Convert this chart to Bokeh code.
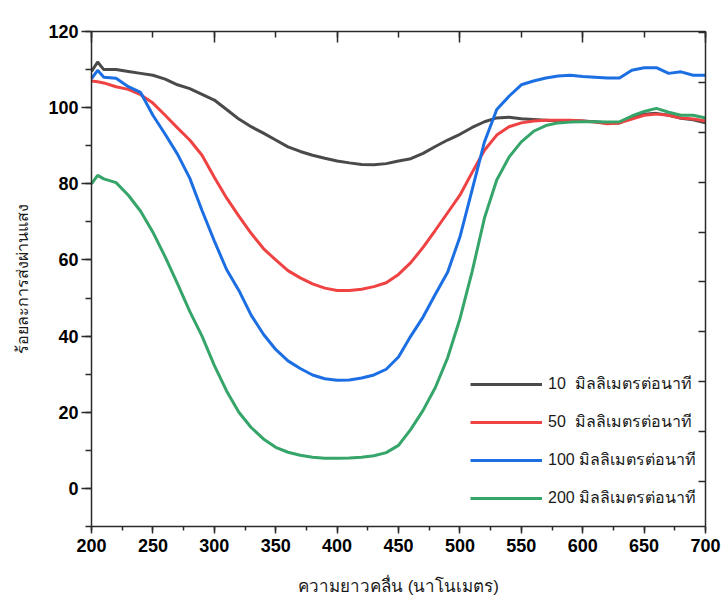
from bokeh.plotting import figure
from bokeh.models import (LinearAxis, Range1d, SingleIntervalTicker, Legend, LegendItem)
from bokeh.embed import file_html
from bokeh.resources import INLINE

# ---- data ----
wl = [200, 205, 210, 220, 230, 240, 250, 260, 270, 280, 290, 300, 310, 320, 330, 340, 350,
      360, 370, 380, 390, 400, 410, 420, 430, 440, 450, 460, 470, 480, 490, 500, 510, 520,
      530, 540, 550, 560, 570, 580, 590, 600, 610, 620, 630, 640, 650, 660, 670, 680, 690, 700]

t10 = [109.5, 112.0, 110.0, 110.0, 109.5, 109.0, 108.5, 107.5, 106.0, 105.0, 103.5, 102.0,
       99.5, 97.0, 95.0, 93.3, 91.5, 89.7, 88.5, 87.5, 86.7, 86.0, 85.5, 85.1, 85.0, 85.3,
       86.0, 86.6, 88.0, 89.8, 91.5, 93.0, 94.8, 96.3, 97.3, 97.5, 97.1, 96.9, 96.7, 96.5,
       96.6, 96.5, 96.3, 96.0, 96.0, 97.5, 98.3, 98.5, 98.0, 97.2, 96.8, 96.0]

t50 = [107.0, 106.8, 106.5, 105.5, 104.8, 103.4, 101.2, 98.0, 94.7, 91.5, 87.5, 81.7,
       76.3, 71.5, 67.0, 63.0, 60.0, 57.2, 55.3, 53.7, 52.6, 52.0, 52.0, 52.3, 53.0, 54.0,
       56.2, 59.3, 63.3, 67.8, 72.4, 77.0, 83.0, 88.8, 92.8, 95.0, 96.0, 96.5, 96.7, 96.7,
       96.7, 96.5, 96.2, 95.8, 96.0, 97.0, 98.0, 98.3, 98.0, 97.3, 97.0, 96.5]

t100 = [107.6, 109.8, 108.0, 107.7, 105.5, 104.0, 98.0, 93.0, 87.8, 81.5, 73.0, 65.0,
        57.5, 52.0, 45.5, 40.5, 36.5, 33.5, 31.5, 29.8, 28.8, 28.4, 28.5, 29.0, 29.8, 31.3,
        34.5, 40.0, 45.0, 51.0, 56.8, 66.0, 78.5, 91.0, 99.5, 103.0, 106.0, 107.0, 107.8,
        108.3, 108.5, 108.2, 108.0, 107.8, 107.8, 109.8, 110.5, 110.5, 109.0, 109.4, 108.5,
        108.5]

t200 = [80.0, 82.2, 81.3, 80.3, 77.0, 72.8, 67.3, 60.8, 53.8, 46.5, 40.0, 32.3, 25.6, 20.0,
        16.0, 13.0, 10.8, 9.5, 8.7, 8.2, 7.9, 7.9, 8.0, 8.2, 8.6, 9.4, 11.3, 15.5, 20.5,
        26.5, 34.3, 44.5, 57.0, 71.0, 81.0, 87.0, 91.0, 93.8, 95.3, 96.0, 96.2, 96.3, 96.3,
        96.2, 96.3, 97.8, 99.0, 99.8, 98.8, 98.0, 98.0, 97.3]

series = [
    ("10  มิลลิเมตรต่อนาที", t10, "#4a4a4a"),
    ("50  มิลลิเมตรต่อนาที", t50, "#ef4343"),
    ("100 มิลลิเมตรต่อนาที", t100, "#1c6fe3"),
    ("200 มิลลิเมตรต่อนาที", t200, "#35a56a"),
]

x_title = "ความยาวคลื่น (นาโนเมตร)"
y_title = "ร้อยละการส่งผ่านแสง"

AX = "#2a2a2a"
TICK_FONT = "Liberation Sans"

p = figure(frame_width=614, frame_height=495, x_range=Range1d(200, 700),
           y_range=Range1d(-10, 120), output_backend="svg", toolbar_location=None,
           min_border_left=91, min_border_top=31, min_border_right=16, min_border_bottom=70,
           background_fill_color="white", border_fill_color="white")
p.xgrid.visible = False
p.ygrid.visible = False
p.outline_line_color = None

items = []
for label, ys, col in series:
    r = p.line(wl, ys, line_color=col, line_width=3)
    items.append(LegendItem(label=label, renderers=[r]))

# bottom axis
xa = p.xaxis[0]
xa.ticker = SingleIntervalTicker(interval=50, num_minor_ticks=2)
xa.axis_label = x_title
# left axis
ya = p.yaxis[0]
ya.ticker = SingleIntervalTicker(interval=20, num_minor_ticks=2)
ya.axis_label = y_title

for ax in (xa, ya):
    ax.axis_line_color = AX
    ax.axis_line_width = 1.5
    ax.major_tick_line_color = AX
    ax.minor_tick_line_color = AX
    ax.major_tick_line_width = 1.5
    ax.minor_tick_line_width = 1.5
    ax.major_tick_in = 0
    ax.minor_tick_in = 0
    ax.major_label_text_font = TICK_FONT
    ax.major_label_text_font_style = "bold"
    ax.major_label_text_font_size = "18px"
    ax.major_label_text_color = "#000000"
    ax.axis_label_text_font_style = "normal"
    ax.axis_label_text_color = "#1a1a1a"

xa.major_tick_out = 7
xa.minor_tick_out = 4
xa.major_label_standoff = 5
xa.axis_label_text_font_size = "17px"
xa.axis_label_standoff = 22
ya.major_tick_out = 10
ya.minor_tick_out = 6
ya.major_label_standoff = 3
ya.axis_label_text_font_size = "16px"
ya.axis_label_standoff = 14

# top mirror axis (ticks inward, no labels drawn)
top = LinearAxis(ticker=SingleIntervalTicker(interval=100, num_minor_ticks=2),
                 major_label_text_color=None, major_label_text_font_size="10px",
                 major_label_standoff=0,
                 axis_line_color=AX, axis_line_width=1.5,
                 major_tick_line_color=AX, minor_tick_line_color=AX,
                 major_tick_line_width=1.5, minor_tick_line_width=1.5,
                 major_tick_in=11, major_tick_out=0, minor_tick_in=6, minor_tick_out=0)
p.add_layout(top, "above")

# right mirror axis (ticks inward, no labels drawn)
p.extra_y_ranges = {"right": Range1d(-0.9, 9.02)}
right = LinearAxis(y_range_name="right",
                   ticker=SingleIntervalTicker(interval=1, num_minor_ticks=0),
                   major_label_text_color=None, major_label_text_font_size="10px",
                   major_label_standoff=0,
                   axis_line_color=AX, axis_line_width=1.5,
                   major_tick_line_color=AX, major_tick_line_width=1.5,
                   major_tick_in=7, major_tick_out=0, minor_tick_line_color=None)
p.add_layout(right, "right")

legend = Legend(items=items, location=(379, 16), orientation="vertical",
                background_fill_alpha=0, border_line_color=None,
                glyph_width=72, glyph_height=20, label_height=20, spacing=13,
                label_standoff=6, padding=0, margin=0,
                label_text_font_size="16px", label_text_color="#1a1a1a")
p.add_layout(legend, "center")

open("out.html", "w").write(file_html(p, INLINE))
